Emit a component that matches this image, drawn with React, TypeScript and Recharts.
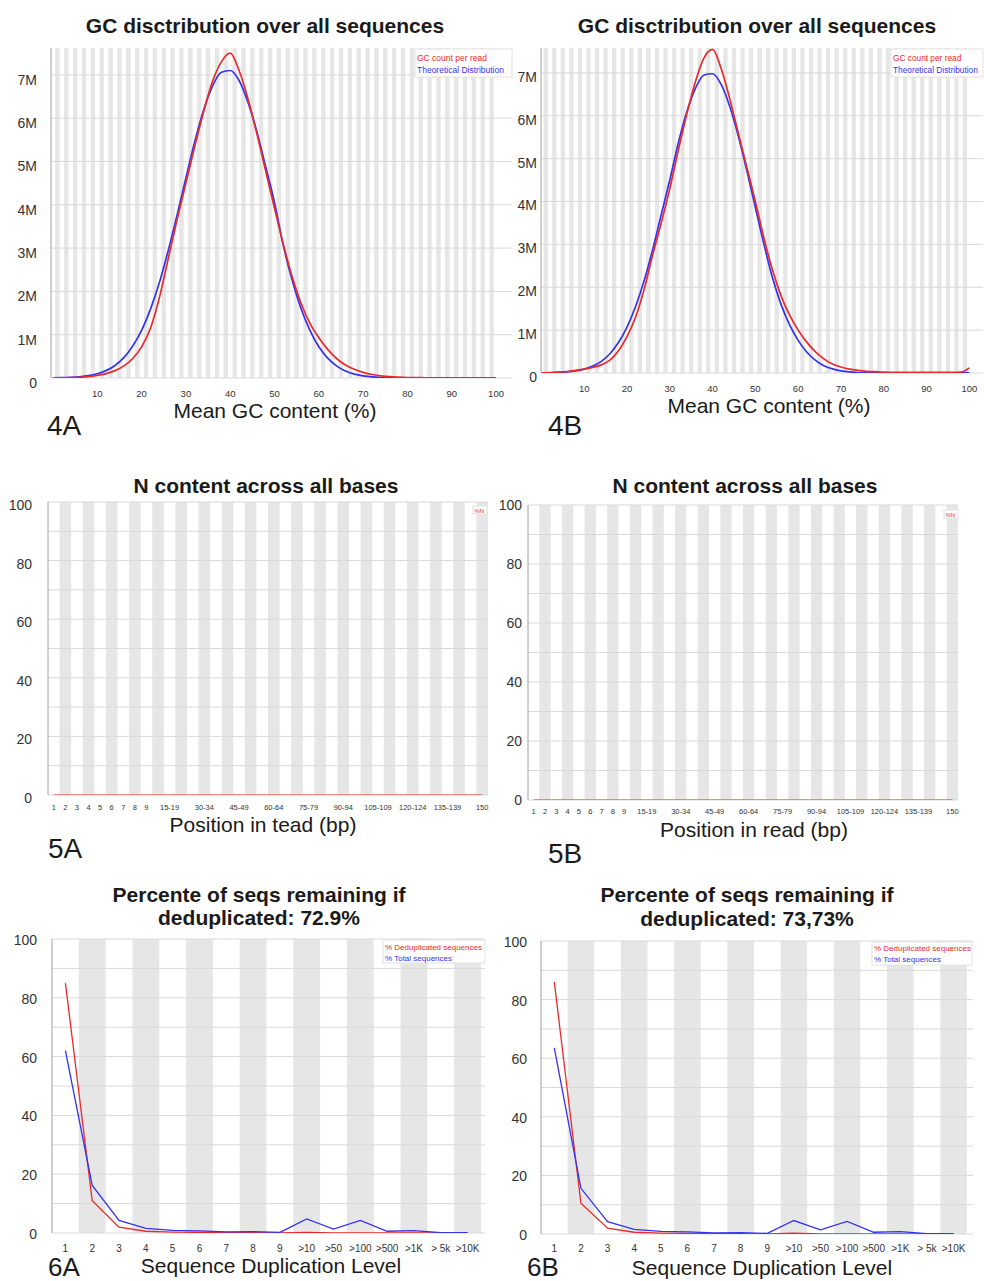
import React from "react";
import { LineChart, Line, XAxis, YAxis, ReferenceArea, ReferenceLine } from "recharts";

const FONT = "'Liberation Sans', Arial, Helvetica, sans-serif";
const RED = "#ea2a2a";
const BLUE = "#3333ee";
const STRIPE = "#e6e6e6";
const GRID = "#d9d9d9";

// ---- 4A / 4B : GC distribution (values in millions of reads) ----
const gcPercent = [0, 2, 4, 6, 8, 10, 12, 14, 16, 18, 20, 22, 24, 26, 28, 30, 32, 34, 36, 38, 40, 42, 44, 46, 48, 50,
  52, 54, 56, 58, 60, 62, 64, 66, 68, 70, 72, 74, 76, 78, 80, 82, 84, 86, 88, 90, 92, 94, 96, 98, 100];
const gcCount4A = [0.002, 0.004, 0.008, 0.015, 0.03, 0.06, 0.1, 0.17, 0.28, 0.45,
  0.72, 1.15, 1.85, 2.75, 3.65, 4.5, 5.35, 6.15, 6.85, 7.3,
  7.5, 7.1, 6.45, 5.65, 4.78, 3.92, 3.08, 2.33, 1.72, 1.26,
  0.93, 0.66, 0.45, 0.3, 0.2, 0.13, 0.08, 0.05, 0.03, 0.02,
  0.012, 0.008, 0.006, 0.005, 0.004, 0.003, 0.003, 0.002, 0.002, 0.002, 0.002];
const gcTheory4A = [0.003, 0.007, 0.014, 0.028, 0.053, 0.098, 0.17, 0.29, 0.47, 0.74,
  1.1, 1.59, 2.2, 2.94, 3.76, 4.62, 5.46, 6.19, 6.74, 7.06,
  7.1, 6.87, 6.37, 5.69, 4.88, 4.05, 3.05, 2.25, 1.6, 1.1,
  0.72, 0.46, 0.28, 0.16, 0.09, 0.05, 0.025, 0.012, 0.006, 0.003,
  0.002, 0.001, 0.001, 0.001, 0.001, 0.001, 0.001, 0.001, 0.001, 0.001, 0.001];
const gcCount4B = [0.005, 0.01, 0.02, 0.035, 0.06, 0.09, 0.13, 0.19, 0.3, 0.52,
  0.85, 1.3, 1.95, 2.75, 3.5, 4.3, 5.2, 6.05, 6.8, 7.35,
  7.55, 7.1, 6.4, 5.6, 4.8, 4.0, 3.15, 2.4, 1.8, 1.35,
  1.0, 0.72, 0.5, 0.33, 0.21, 0.14, 0.09, 0.06, 0.04, 0.03,
  0.02, 0.015, 0.015, 0.015, 0.015, 0.015, 0.015, 0.015, 0.015, 0.02, 0.12];
const gcTheory4B = [0.003, 0.006, 0.013, 0.025, 0.048, 0.09, 0.16, 0.27, 0.45, 0.71,
  1.07, 1.55, 2.15, 2.88, 3.69, 4.5, 5.37, 6.1, 6.64, 6.95,
  6.98, 6.73, 6.22, 5.53, 4.72, 3.86, 3.0, 2.22, 1.6, 1.12,
  0.76, 0.49, 0.3, 0.17, 0.095, 0.05, 0.025, 0.012, 0.006, 0.003,
  0.002, 0.002, 0.002, 0.002, 0.002, 0.002, 0.002, 0.002, 0.002, 0.002, 0.002];
const gcXTicks = [10, 20, 30, 40, 50, 60, 70, 80, 90, 100];
const gcYTicks = [0, 1, 2, 3, 4, 5, 6, 7];
const gcBins = Array.from({ length: 101 }, (_, i) => i);

// ---- 5A / 5B : N content per position group ----
const nCategories = ["1", "2", "3", "4", "5", "6", "7", "8", "9", "10-14", "15-19", "20-24", "25-29", "30-34",
  "35-39", "40-44", "45-49", "50-54", "55-59", "60-64", "65-69", "70-74", "75-79", "80-84", "85-89", "90-94",
  "95-99", "100-104", "105-109", "110-114", "115-119", "120-124", "125-129", "130-134", "135-139", "140-144",
  "145-149", "150"];
const nContent5A = [0, 0, 0, 0, 0, 0, 0, 0, 0, 0, 0, 0, 0, 0, 0, 0, 0, 0, 0, 0, 0, 0, 0, 0, 0, 0, 0, 0, 0, 0, 0, 0, 0, 0, 0, 0, 0, 0];
const nContent5B = [0, 0, 0, 0, 0, 0, 0, 0, 0, 0, 0, 0, 0, 0, 0, 0, 0, 0, 0, 0, 0, 0, 0, 0, 0, 0, 0, 0, 0, 0, 0, 0, 0, 0, 0, 0, 0, 0];
const nShownTicks = [0, 1, 2, 3, 4, 5, 6, 7, 8, 10, 13, 16, 19, 22, 25, 28, 31, 34, 37];

// ---- 6A / 6B : sequence duplication levels (%) ----
const dupLevels = ["1", "2", "3", "4", "5", "6", "7", "8", "9", ">10", ">50", ">100", ">500", ">1K", "> 5k", ">10K"];
const dedup6A = [85, 11, 2, 0.6, 0.3, 0.2, 0.15, 0.1, 0.05, 0.2, 0.05, 0.05, 0.02, 0.02, 0.01, 0.01];
const total6A = [62, 16.2, 4.3, 1.6, 0.9, 0.7, 0.4, 0.5, 0.2, 4.8, 1.3, 4.3, 0.6, 0.8, 0.1, 0.1];
const dedup6B = [86, 10.5, 2, 0.6, 0.3, 0.2, 0.15, 0.1, 0.05, 0.3, 0.05, 0.05, 0.02, 0.02, 0.01, 0.01];
const total6B = [63.5, 15.6, 4.2, 1.6, 0.9, 0.7, 0.4, 0.5, 0.2, 4.6, 1.4, 4.3, 0.6, 0.8, 0.1, 0.1];

const pctTicks = [0, 10, 20, 30, 40, 50, 60, 70, 80, 90, 100];

type Series = { key: string; color: string; width: number; curve: "monotone" | "linear" };
type Box = { x: number; y: number; w: number; h: number };

interface PanelProps {
  box: Box;
  data: any[];
  xDomain: [number, number];
  xTicks: number[];
  xLabel: (v: number) => string;
  xFont: number;
  xDy: number;
  yDomain: [number, number];
  yTicks: number[];
  yLabel: (v: number) => string;
  yDy: number;
  yGap: number;
  stripes: number[];
  series: Series[];
}

function Panel(p: PanelProps) {
  const L = 70, T = 20, R = 4, B = 30;
  const W = p.box.w + L + R;
  const H = p.box.h + T + B;
  return (
    <div style={{ position: "absolute", left: p.box.x - L, top: p.box.y - T, width: W, height: H }}>
      <LineChart width={W} height={H} data={p.data} margin={{ top: T, right: R, left: 0, bottom: 0 }}>
        <XAxis dataKey="x" type="number" domain={p.xDomain} ticks={p.xTicks} interval={0} allowDataOverflow
          height={B} axisLine={false} tickLine={false} tickSize={0} tickMargin={0}
          tick={(t: any) => (
            <text x={t.x} y={t.y + p.xDy} textAnchor="middle" fontSize={p.xFont} fill="#333" fontFamily={FONT}>
              {p.xLabel(t.payload.value)}
            </text>
          )} />
        <YAxis type="number" domain={p.yDomain} ticks={p.yTicks} interval={0} allowDataOverflow width={L}
          axisLine={{ stroke: "#a0a0a0" }} tickLine={false} tickSize={0} tickMargin={0}
          tick={(t: any) => (
            <text x={t.x - p.yGap} y={t.y + p.yDy} textAnchor="end" fontSize={14} fill="#333" fontFamily={FONT}>
              {p.yLabel(t.payload.value)}
            </text>
          )} />
        {p.stripes.map((i) => (
          <ReferenceArea key={"s" + i} x1={i - 0.5} x2={i + 0.5} fill={STRIPE} fillOpacity={1} stroke="none" ifOverflow="hidden" />
        ))}
        {p.yTicks.map((v) => (
          <ReferenceLine key={"g" + v} y={v} stroke={GRID} strokeWidth={1} />
        ))}
        {p.series.map((s) => (
          <Line key={s.key} dataKey={s.key} type={s.curve} stroke={s.color} strokeWidth={s.width}
            dot={false} activeDot={false} isAnimationActive={false} />
        ))}
      </LineChart>
    </div>
  );
}

const gcData = (count: number[], theory: number[]) =>
  gcPercent.map((x, i) => ({ x, count: count[i], theory: theory[i] }));
const nData = (vals: number[]) => nCategories.map((_, i) => ({ x: i, n: vals[i] }));
const dupData = (dedup: number[], total: number[]) =>
  dupLevels.map((_, i) => ({ x: i, dedup: dedup[i], total: total[i] }));

const gcStripes = gcBins.filter((i) => i % 2 === 1);
const nStripes = nCategories.map((_, i) => i).filter((i) => i % 2 === 1);
const dupStripes = dupLevels.map((_, i) => i).filter((i) => i % 2 === 1);

const gcSeries: Series[] = [
  { key: "theory", color: BLUE, width: 1.7, curve: "monotone" },
  { key: "count", color: RED, width: 1.7, curve: "monotone" },
];
const dupSeries: Series[] = [
  { key: "dedup", color: RED, width: 1.3, curve: "linear" },
  { key: "total", color: BLUE, width: 1.3, curve: "linear" },
];

const mLabel = (v: number) => (v === 0 ? "0" : v + "M");
const pctLabel = (v: number) => (v % 20 === 0 ? String(v) : "");

function Legend({ x, y, w, h, items, fs, x0, ys }: { x: number; y: number; w: number; h: number; items: [string, string][]; fs: number; x0: number; ys: number[] }) {
  return (
    <g>
      <rect x={x} y={y} width={w} height={h} fill="#fff" stroke="#e2e2e2" strokeWidth={1} />
      {items.map(([label, color], i) => (
        <text key={label} x={x0} y={ys[i]} fontSize={fs} fill={color} fontFamily={FONT}>{label}</text>
      ))}
    </g>
  );
}

export default function App() {
  const title = { fontSize: 21, fontWeight: 700 as const, fill: "#1a1a1a", fontFamily: FONT, textAnchor: "middle" as const };
  const axisTitle = { fontSize: 21, fill: "#1a1a1a", fontFamily: FONT, textAnchor: "middle" as const };
  const tag = { fontSize: 28, fill: "#1a1a1a", fontFamily: FONT };
  return (
    <div style={{ position: "absolute", left: 0, top: 0, width: 984, height: 1281, overflow: "hidden", background: "#fff" }}>
      <Panel box={{ x: 51, y: 48, w: 461, h: 330 }} data={gcData(gcCount4A, gcTheory4A)}
        xDomain={[-0.45, 103.6]} xTicks={gcXTicks} xLabel={String} xFont={9.5} xDy={19}
        yDomain={[0, 7.62]} yTicks={gcYTicks} yLabel={mLabel} yDy={10} yGap={14}
        stripes={gcStripes} series={gcSeries} />
      <Panel box={{ x: 541, y: 48, w: 442, h: 325 }} data={gcData(gcCount4B, gcTheory4B)}
        xDomain={[-0.1, 103.2]} xTicks={gcXTicks} xLabel={String} xFont={9.5} xDy={19}
        yDomain={[0, 7.58]} yTicks={gcYTicks} yLabel={mLabel} yDy={9} yGap={4}
        stripes={gcStripes} series={gcSeries} />

      <Panel box={{ x: 48, y: 502, w: 440, h: 293 }} data={nData(nContent5A)}
        xDomain={[-0.5, 37.5]} xTicks={nShownTicks} xLabel={(v) => nCategories[v]} xFont={7.5} xDy={15}
        yDomain={[0, 100]} yTicks={pctTicks} yLabel={pctLabel} yDy={8} yGap={16}
        stripes={nStripes} series={[{ key: "n", color: RED, width: 1.2, curve: "linear" }]} />
      <Panel box={{ x: 528, y: 505, w: 430, h: 295 }} data={nData(nContent5B)}
        xDomain={[-0.5, 37.5]} xTicks={nShownTicks} xLabel={(v) => nCategories[v]} xFont={7.5} xDy={14}
        yDomain={[0, 100]} yTicks={pctTicks} yLabel={pctLabel} yDy={5} yGap={6}
        stripes={nStripes} series={[{ key: "n", color: RED, width: 1.2, curve: "linear" }]} />

      <Panel box={{ x: 52, y: 939, w: 433, h: 294 }} data={dupData(dedup6A, total6A)}
        xDomain={[-0.5, 15.65]} xTicks={dupLevels.map((_, i) => i)} xLabel={(v) => dupLevels[v]} xFont={10} xDy={19}
        yDomain={[0, 100]} yTicks={pctTicks} yLabel={pctLabel} yDy={6} yGap={15}
        stripes={dupStripes} series={dupSeries} />
      <Panel box={{ x: 541, y: 941, w: 432, h: 293 }} data={dupData(dedup6B, total6B)}
        xDomain={[-0.5, 15.73]} xTicks={dupLevels.map((_, i) => i)} xLabel={(v) => dupLevels[v]} xFont={10} xDy={18}
        yDomain={[0, 100]} yTicks={pctTicks} yLabel={pctLabel} yDy={6} yGap={14}
        stripes={dupStripes} series={dupSeries} />

      <svg width={984} height={1281} style={{ position: "absolute", left: 0, top: 0, pointerEvents: "none" }}>
        <text x={265} y={33} {...title}>GC disctribution over all sequences</text>
        <text x={757} y={33} {...title}>GC disctribution over all sequences</text>
        <text x={266} y={493} {...title}>N content across all bases</text>
        <text x={745} y={493} {...title}>N content across all bases</text>
        <text x={259} y={902} {...title}>Percente of seqs remaining if</text>
        <text x={259} y={925} {...title}>deduplicated: 72.9%</text>
        <text x={747} y={902} {...title}>Percente of seqs remaining if</text>
        <text x={747} y={926} {...title}>deduplicated: 73,73%</text>

        <text x={275} y={418} {...axisTitle}>Mean GC content (%)</text>
        <text x={769} y={413} {...axisTitle}>Mean GC content (%)</text>
        <text x={263} y={832} {...axisTitle}>Position in tead (bp)</text>
        <text x={754} y={837} {...axisTitle}>Position in read (bp)</text>
        <text x={271} y={1273} {...axisTitle}>Sequence Duplication Level</text>
        <text x={762} y={1275} {...axisTitle}>Sequence Duplication Level</text>

        <text x={47} y={435} {...tag}>4A</text>
        <text x={548} y={435} {...tag}>4B</text>
        <text x={48} y={858} {...tag}>5A</text>
        <text x={548} y={863} {...tag}>5B</text>
        <text x={48} y={1276} fontSize={26} fill="#1a1a1a" fontFamily={FONT}>6A</text>
        <text x={527} y={1276} fontSize={26} fill="#1a1a1a" fontFamily={FONT}>6B</text>

        <Legend x={415} y={49} w={97} h={28} fs={8.5} x0={417} ys={[61, 73]}
          items={[["GC count per read", RED], ["Theoretical Distribution", BLUE]]} />
        <Legend x={891} y={49} w={92} h={28} fs={8.3} x0={893} ys={[61, 73]}
          items={[["GC count per read", RED], ["Theoretical Distribution", BLUE]]} />
        <Legend x={473} y={506} w={14} h={8} fs={6} x0={474.5} ys={[512.5]} items={[["%N", RED]]} />
        <Legend x={944} y={510} w={14} h={8} fs={6} x0={945.5} ys={[516.5]} items={[["%N", RED]]} />
        <Legend x={383} y={940} w={102} h={23} fs={8} x0={385} ys={[950, 961]}
          items={[["% Deduplicated sequences", RED], ["% Total sequences", BLUE]]} />
        <Legend x={872} y={942} w={100} h={23} fs={8} x0={874} ys={[951, 962]}
          items={[["% Deduplicated sequences", RED], ["% Total sequences", BLUE]]} />
      </svg>
    </div>
  );
}
